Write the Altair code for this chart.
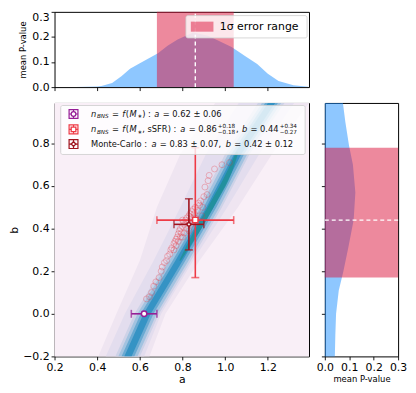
import altair as alt
import pandas as pd

A_DOMAIN = [0.2, 1.393]
B_DOMAIN = [-0.2, 0.99]
P_DOMAIN = [0.0, 0.3]
A_TICKS = [0.2, 0.4, 0.6, 0.8, 1.0, 1.2]
B_TICKS = [-0.2, 0.0, 0.2, 0.4, 0.6, 0.8]
P_TICK_COUNT = 4

MAIN_W, MAIN_H = 257, 256
TOP_H = 76
SIDE_W = 74

# ---- marginal curves (mean P-value) ----
top_a = [0.2, 0.3, 0.4, 0.42, 0.47, 0.515, 0.554, 0.6, 0.685, 0.73, 0.777, 0.85,
         0.92, 1.03, 1.1, 1.15, 1.2, 1.25, 1.32, 1.39]
top_p = [0.0, 0.0, 0.002, 0.004, 0.016, 0.044, 0.073, 0.095, 0.135, 0.165, 0.19, 0.218,
         0.205, 0.16, 0.12, 0.092, 0.053, 0.024, 0.007, 0.001]
side_b = [-0.2, -0.1, 0.0, 0.11, 0.2, 0.31, 0.44, 0.57, 0.7, 0.79, 0.9, 0.99]
side_p = [0.041, 0.043, 0.046, 0.057, 0.076, 0.096, 0.118, 0.125, 0.115, 0.099, 0.084, 0.074]

# best fit and 1-sigma range
fit_a, fit_a_lo, fit_a_hi = 0.86, 0.68, 1.04
fit_b, fit_b_lo, fit_b_hi = 0.44, 0.17, 0.78

# ---- likelihood band (nested levels) ----
band_b = [-0.2, 0.0, 0.25, 0.5, 0.75, 1.0]
band_levels = [
    ("#efe5f1", [0.405, 0.49, 0.60, 0.68, 0.79, 0.96], [0.645, 0.72, 0.88, 1.06, 1.22, 1.40]),
    ("#e3ddee", [0.44, 0.53, 0.665, 0.79, 0.91, 1.07], [0.62, 0.70, 0.85, 1.01, 1.16, 1.33]),
    ("#cdd2e7", [0.485, 0.575, 0.725, 0.87, 1.0, 1.16], [0.60, 0.69, 0.84, 0.985, 1.115, 1.285]),
    ("#a3c3e0", [0.499, 0.589, 0.739, 0.884, 1.014, 1.179], [0.589, 0.679, 0.829, 0.974, 1.104, 1.269]),
    ("#6aaad2", [0.514, 0.604, 0.754, 0.899, 1.029, 1.194], [0.574, 0.664, 0.814, 0.959, 1.089, 1.254]),
    ("#3593c4", [0.527, 0.617, 0.767, 0.912, 1.042, 1.207], [0.561, 0.651, 0.801, 0.946, 1.076, 1.241]),
]
core_b = [0.25, 0.38, 0.5, 0.63, 0.76]
core_left = [0.785, 0.85, 0.918, 0.99, 1.052]
core_right = [0.792, 0.877, 0.946, 1.017, 1.062]

# Monte-Carlo samples
mc_a = [0.631, 0.645, 0.655, 0.665, 0.675, 0.69, 0.70, 0.705, 0.715, 0.725, 0.73, 0.74, 0.745,
        0.75, 0.76, 0.765, 0.77, 0.775, 0.78, 0.785, 0.79, 0.795, 0.80, 0.805, 0.81, 0.815,
        0.82, 0.825, 0.83, 0.835, 0.84, 0.845, 0.85, 0.855, 0.86, 0.87, 0.875, 0.885, 0.89,
        0.895, 0.90, 0.905, 0.915, 0.92, 0.925, 0.95, 0.985, 1.02, 0.80, 0.76,
        0.78, 0.79, 0.81, 0.82, 0.84, 0.80, 0.77, 0.83, 0.86, 0.88]
mc_b = [0.07, 0.08, 0.10, 0.13, 0.15, 0.17, 0.20, 0.22, 0.24, 0.25, 0.27, 0.28, 0.30,
        0.31, 0.33, 0.34, 0.35, 0.36, 0.375, 0.39, 0.40, 0.38, 0.41, 0.43, 0.42, 0.44,
        0.45, 0.43, 0.46, 0.47, 0.45, 0.48, 0.49, 0.47, 0.50, 0.485, 0.52, 0.53, 0.46,
        0.50, 0.55, 0.595, 0.56, 0.625, 0.65, 0.68, 0.70, 0.71, 0.36, 0.30,
        0.34, 0.36, 0.38, 0.40, 0.42, 0.44, 0.32, 0.39, 0.45, 0.51]

# estimates with error bars
est_colors = ["#961e96", "#ee3a45", "#a0141e"]
est_shapes = ["circle", "square", "diamond"]
est_a = [0.62, 0.86, 0.83]
est_b = [0.0, 0.44, 0.42]
est_a_lo = [0.56, 0.68, 0.76]
est_a_hi = [0.68, 1.04, 0.90]
est_b_lo = [None, 0.17, 0.30]
est_b_hi = [None, 0.78, 0.54]

FONT = "DejaVu Sans"

xs_main = alt.Scale(domain=A_DOMAIN, nice=False, zero=False)
ys_main = alt.Scale(domain=B_DOMAIN, nice=False, zero=False)
ps = alt.Scale(domain=P_DOMAIN, nice=False, zero=False)

# ================= TOP PANEL =================
df_top = pd.DataFrame({"a": top_a, "p": top_p})
top_p_axis = alt.Axis(tickCount=P_TICK_COUNT, format=".1f", title="mean P-value", titleFontSize=8.5,
                      titlePadding=4, labelOverlap=False, labelFlush=False,
                      labelBaseline={"condition": {"test": "datum.value >= 0.29", "value": "top"},
                                     "value": "middle"})
top_area = alt.Chart(df_top).mark_area(color="dodgerblue", opacity=0.5).encode(
    x=alt.X("a:Q", scale=xs_main, axis=alt.Axis(values=A_TICKS, labels=False, title=None)),
    y=alt.Y("p:Q", scale=ps, axis=top_p_axis),
)
df_rng_a = pd.DataFrame({"lo": [fit_a_lo], "hi": [fit_a_hi], "mid": [fit_a],
                         "p0": [P_DOMAIN[0]], "p1": [P_DOMAIN[1]]})
top_rect = alt.Chart(df_rng_a).mark_rect(color="crimson", opacity=0.5).encode(
    x=alt.X("lo:Q", scale=xs_main), x2="hi:Q",
    y=alt.Y("p0:Q", scale=ps), y2="p1:Q")
top_dash = alt.Chart(df_rng_a).mark_rule(color="white", strokeDash=[4, 3], strokeWidth=1.4).encode(
    x=alt.X("mid:Q", scale=xs_main), y=alt.Y("p0:Q", scale=ps), y2="p1:Q")

# legend of the top panel (annotation, placed in data coordinates)
leg_top = pd.DataFrame({"x0": [0.816], "x1": [1.384], "y0": [0.196], "y1": [0.285],
                        "px0": [0.839], "px1": [0.945], "py0": [0.221], "py1": [0.261],
                        "tx": [0.975], "ty": [0.241], "label": ["1σ error range"]})
top_leg_box = alt.Chart(leg_top).mark_rect(fill="white", fillOpacity=0.8, stroke="#cccccc",
                                           strokeWidth=0.8, cornerRadius=2).encode(
    x=alt.X("x0:Q", scale=xs_main), x2="x1:Q", y=alt.Y("y0:Q", scale=ps), y2="y1:Q")
top_leg_patch = alt.Chart(leg_top).mark_rect(color="crimson", opacity=0.5).encode(
    x=alt.X("px0:Q", scale=xs_main), x2="px1:Q", y=alt.Y("py0:Q", scale=ps), y2="py1:Q")
top_leg_text = alt.Chart(leg_top).mark_text(align="left", baseline="middle", fontSize=11,
                                            font=FONT, color="black").encode(
    x=alt.X("tx:Q", scale=xs_main), y=alt.Y("ty:Q", scale=ps), text="label:N")

top = alt.layer(top_area, top_rect, top_dash, top_leg_box, top_leg_patch, top_leg_text).properties(
    width=MAIN_W, height=TOP_H)

# ================= SIDE PANEL =================
df_side = pd.DataFrame({"b": side_b, "p": side_p})
side_p_axis = alt.Axis(tickCount=P_TICK_COUNT, format=".1f", title="mean P-value", titleFontSize=8.5,
                       titlePadding=2, labelOverlap=False, labelFlush=False)
side_area = alt.Chart(df_side).mark_area(color="dodgerblue", opacity=0.5, orient="horizontal").encode(
    y=alt.Y("b:Q", scale=ys_main, axis=alt.Axis(values=B_TICKS, labels=False, title=None)),
    x=alt.X("p:Q", scale=ps, axis=side_p_axis),
)
df_rng_b = pd.DataFrame({"lo": [fit_b_lo], "hi": [fit_b_hi], "mid": [fit_b],
                         "p0": [P_DOMAIN[0]], "p1": [P_DOMAIN[1]]})
side_rect = alt.Chart(df_rng_b).mark_rect(color="crimson", opacity=0.5).encode(
    y=alt.Y("lo:Q", scale=ys_main), y2="hi:Q", x=alt.X("p0:Q", scale=ps), x2="p1:Q")
side_dash = alt.Chart(df_rng_b).mark_rule(color="white", strokeDash=[4, 3], strokeWidth=1.4).encode(
    y=alt.Y("mid:Q", scale=ys_main), x=alt.X("p0:Q", scale=ps), x2="p1:Q")
side = alt.layer(side_area, side_rect, side_dash).properties(width=SIDE_W, height=MAIN_H)

# ================= MAIN PANEL =================
main_layers = []
bg = pd.DataFrame({"a0": [A_DOMAIN[0]], "a1": [A_DOMAIN[1]], "b0": [B_DOMAIN[0]], "b1": [B_DOMAIN[1]]})
main_layers.append(alt.Chart(bg).mark_rect(color="#f9eff7").encode(
    x=alt.X("a0:Q", scale=xs_main, axis=alt.Axis(values=A_TICKS, format=".1f", title="a",
                                                  titleFontSize=11, titlePadding=1)),
    x2="a1:Q",
    y=alt.Y("b0:Q", scale=ys_main, axis=alt.Axis(values=B_TICKS, format=".1f", title="b",
                                                  titleFontSize=11, titlePadding=3)),
    y2="b1:Q"))

for col, left, right in band_levels:
    d = pd.DataFrame({"b": band_b, "l": left, "r": right})
    main_layers.append(alt.Chart(d).mark_area(color=col, orient="horizontal", clip=True).encode(
        y=alt.Y("b:Q", scale=ys_main), x=alt.X("l:Q", scale=xs_main), x2="r:Q"))
d_core = pd.DataFrame({"b": core_b, "l": core_left, "r": core_right})
main_layers.append(alt.Chart(d_core).mark_area(color="#1f8f98", orient="horizontal", clip=True,
                                               opacity=0.85, interpolate="monotone").encode(
    y=alt.Y("b:Q", scale=ys_main), x=alt.X("l:Q", scale=xs_main), x2="r:Q"))

df_mc = pd.DataFrame({"a": mc_a, "b": mc_b})
main_layers.append(alt.Chart(df_mc).mark_point(shape="circle", filled=False, color="#e8303a",
                                               opacity=0.3, size=36, strokeWidth=1).encode(
    x=alt.X("a:Q", scale=xs_main), y=alt.Y("b:Q", scale=ys_main)))

CAP = 8
for i in range(3):
    c = est_colors[i]
    d = pd.DataFrame({"a": [est_a[i]], "b": [est_b[i]], "alo": [est_a_lo[i]], "ahi": [est_a_hi[i]]})
    main_layers.append(alt.Chart(d).mark_rule(color=c, strokeWidth=1.6).encode(
        x=alt.X("alo:Q", scale=xs_main), x2="ahi:Q", y=alt.Y("b:Q", scale=ys_main)))
    dcap = pd.DataFrame({"a": [est_a_lo[i], est_a_hi[i]], "b": [est_b[i], est_b[i]]})
    main_layers.append(alt.Chart(dcap).mark_tick(color=c, orient="vertical", size=CAP, thickness=1.6).encode(
        x=alt.X("a:Q", scale=xs_main), y=alt.Y("b:Q", scale=ys_main)))
    if est_b_lo[i] is not None:
        dv = pd.DataFrame({"a": [est_a[i]], "blo": [est_b_lo[i]], "bhi": [est_b_hi[i]]})
        main_layers.append(alt.Chart(dv).mark_rule(color=c, strokeWidth=1.6).encode(
            x=alt.X("a:Q", scale=xs_main), y=alt.Y("blo:Q", scale=ys_main), y2="bhi:Q"))
        dcap2 = pd.DataFrame({"a": [est_a[i], est_a[i]], "b": [est_b_lo[i], est_b_hi[i]]})
        main_layers.append(alt.Chart(dcap2).mark_tick(color=c, orient="horizontal", size=CAP, thickness=1.6).encode(
            x=alt.X("a:Q", scale=xs_main), y=alt.Y("b:Q", scale=ys_main)))

for i in range(3):
    d = pd.DataFrame({"a": [est_a[i]], "b": [est_b[i]]})
    main_layers.append(alt.Chart(d).mark_point(shape=est_shapes[i], filled=True, fill="white",
                                               stroke=est_colors[i], strokeWidth=1.5, opacity=1,
                                               size=30 if i < 2 else 22).encode(
        x=alt.X("a:Q", scale=xs_main), y=alt.Y("b:Q", scale=ys_main)))

# ---- legend of the main panel (annotation, placed in data coordinates) ----
PX_A = (A_DOMAIN[1] - A_DOMAIN[0]) / MAIN_W
PX_B = (B_DOMAIN[1] - B_DOMAIN[0]) / MAIN_H
leg_box = pd.DataFrame({"a0": [0.229], "a1": [1.375], "b0": [0.748], "b1": [0.978]})
main_layers.append(alt.Chart(leg_box).mark_rect(fill="white", fillOpacity=0.8, stroke="#cccccc",
                                                strokeWidth=0.8, cornerRadius=2).encode(
    x=alt.X("a0:Q", scale=xs_main), x2="a1:Q", y=alt.Y("b0:Q", scale=ys_main), y2="b1:Q"))

row_b = [0.938, 0.866, 0.797]
mark_a = 0.289
for i in range(3):
    d = pd.DataFrame({"a": [mark_a], "b": [row_b[i]]})
    main_layers.append(alt.Chart(d).mark_point(shape="square", filled=False, color=est_colors[i],
                                               size=80, strokeWidth=1.2, opacity=1).encode(
        x=alt.X("a:Q", scale=xs_main), y=alt.Y("b:Q", scale=ys_main)))
    main_layers.append(alt.Chart(d).mark_point(shape="M-1,0H1M0,-1V1", filled=False, color=est_colors[i],
                                               size=80, strokeWidth=1.2, opacity=1).encode(
        x=alt.X("a:Q", scale=xs_main), y=alt.Y("b:Q", scale=ys_main)))
    main_layers.append(alt.Chart(d).mark_point(shape=est_shapes[i], filled=True, fill="white",
                                               stroke=est_colors[i], strokeWidth=1.3, opacity=1,
                                               size=22).encode(
        x=alt.X("a:Q", scale=xs_main), y=alt.Y("b:Q", scale=ys_main)))

W = {" ": 0.318, ".": 0.318, ",": 0.318, ":": 0.337, "=": 0.838, "±": 0.838, "+": 0.838,
     "-": 0.361, "−": 0.838, "(": 0.39, ")": 0.39, "∗": 0.75, "a": 0.613, "b": 0.635,
     "f": 0.352, "n": 0.634, "M": 0.863, "S": 0.635, "F": 0.575, "R": 0.695, "s": 0.521,
     "B": 0.686, "N": 0.748, "o": 0.612, "t": 0.392, "e": 0.615, "C": 0.698, "l": 0.278,
     "r": 0.411}
for dg in "0123456789":
    W[dg] = 0.636


def tw(s, size):
    return sum(W.get(ch, 0.6) for ch in s) * size * 1.02


FS = 8.4
SS = FS * 0.68
# segments: (text, style, kind) with kind in "n" (normal), "sub", "stack" (sup, sub)
row_segments = [
    [("n", "italic", "n"), ("BNS", "italic", "sub"), (" = ", "normal", "n"), ("f", "italic", "n"),
     ("(", "normal", "n"), ("M", "italic", "n"), ("∗", "normal", "sub"), (") : ", "normal", "n"),
     ("a", "italic", "n"), (" = 0.62 ± 0.06", "normal", "n")],
    [("n", "italic", "n"), ("BNS", "italic", "sub"), (" = ", "normal", "n"), ("f", "italic", "n"),
     ("(", "normal", "n"), ("M", "italic", "n"), ("∗", "normal", "sub"), (", sSFR) : ", "normal", "n"),
     ("a", "italic", "n"), (" = 0.86", "normal", "n"), (("+0.18", "−0.18"), "normal", "stack"),
     (", ", "normal", "n"), ("b", "italic", "n"), (" = 0.44", "normal", "n"),
     (("+0.34", "−0.27"), "normal", "stack")],
    [("Monte-Carlo : ", "normal", "n"), ("a", "italic", "n"), (" = 0.83 ± 0.07, ", "normal", "n"),
     ("b", "italic", "n"), (" = 0.42 ± 0.12", "normal", "n")],
]
text_start_a = 0.371
rows = []
for r, segs in enumerate(row_segments):
    x = 0.0
    for txt, style, kind in segs:
        if kind == "stack":
            sup, sub = txt
            a_pos = text_start_a + x * PX_A
            rows.append({"a": a_pos, "b": row_b[r] + 3.0 * PX_B, "t": sup, "s": SS, "st": style})
            rows.append({"a": a_pos, "b": row_b[r] - 2.6 * PX_B, "t": sub, "s": SS, "st": style})
            x += max(tw(sup, SS), tw(sub, SS)) + 0.5
            continue
        size = FS if kind == "n" else SS
        db = 0.0 if kind == "n" else -2.4 * PX_B
        lead = len(txt) - len(txt.lstrip(" "))
        x += tw(" " * lead, size)  # svg collapses leading blanks, so advance by hand
        core = txt.strip(" ")
        a_pos = text_start_a + x * PX_A
        rows.append({"a": a_pos, "b": row_b[r] + db, "t": core, "s": size, "st": style})
        x += tw(txt.lstrip(" "), size) + 0.5
df_txt = pd.DataFrame(rows)
for style in ["normal", "italic"]:
    main_layers.append(alt.Chart(df_txt[df_txt.st == style]).mark_text(
        align="left", baseline="middle", font=FONT, fontStyle=style, color="#111111").encode(
        x=alt.X("a:Q", scale=xs_main), y=alt.Y("b:Q", scale=ys_main), text="t:N",
        size=alt.Size("s:Q", scale=None)))

main = alt.layer(*main_layers).properties(width=MAIN_W, height=MAIN_H)

# blank corner
blank = alt.Chart(pd.DataFrame({"v": [0]})).mark_point(opacity=0).encode(
    x=alt.X("v:Q", axis=None), y=alt.Y("v:Q", axis=None)).properties(
    width=SIDE_W, height=TOP_H, view=alt.ViewBackground(strokeOpacity=0))

chart = alt.concat(top, blank, main, side, columns=2, spacing={"row": 16, "column": 16},
                   bounds="flush", align="each").properties(
    padding=0
).configure(font=FONT).configure_view(stroke="black", strokeWidth=1).configure_axis(
    domain=False, grid=False, tickColor="black", tickSize=3.5, tickWidth=0.9,
    labelColor="black", labelFont=FONT, labelFontSize=11, labelPadding=2,
    labelOverlap=False, labelFlush=False,
    titleColor="black", titleFont=FONT, titleFontWeight="normal")

chart.save("out.html", embed_options={"renderer": "svg", "actions": False})
